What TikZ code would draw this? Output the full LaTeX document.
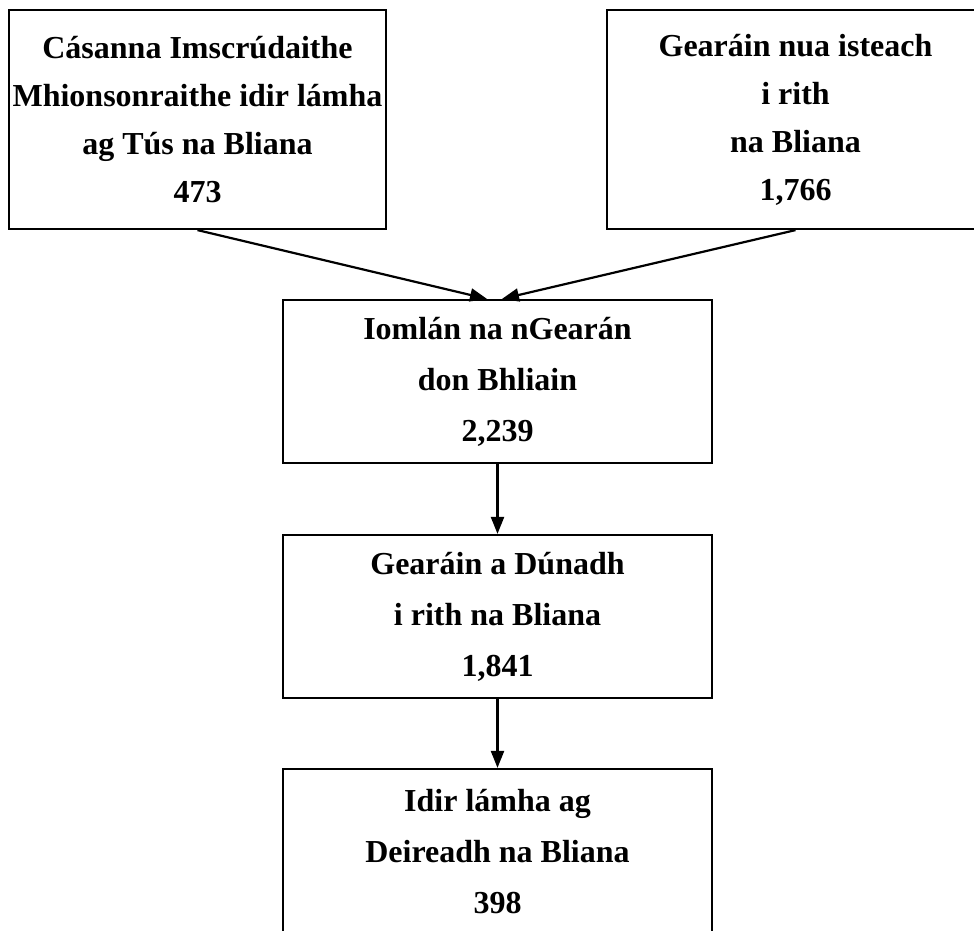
\documentclass[tikz,border=0pt]{standalone}
\usepackage{fontspec}
\setmainfont{Liberation Serif}
\usetikzlibrary{arrows.meta}
\begin{document}
\begin{tikzpicture}[x=1pt,y=-1pt,
  box/.style={draw=black, line width=2.2pt, rectangle, inner sep=0pt, align=center,
    font=\fontsize{32}{51}\selectfont\bfseries},
  topbox/.style={box, minimum width=377pt, minimum height=219pt,
    font=\fontsize{32}{48}\selectfont\bfseries},
  midbox/.style={box, minimum width=429pt, minimum height=163pt},
  arr/.style={line width=2.2pt, -{Triangle[length=17pt,width=13pt]}}]
\useasboundingbox (0,0) rectangle (974,931);
\clip (0,0) rectangle (974,931);
\node[topbox] (a) at (197.5,119.5) {Cásanna Imscrúdaithe\\Mhionsonraithe idir lámha\\ag Tús na Bliana\\473};
\node[topbox] (b) at (795.5,119.5) {Gearáin nua isteach\\i rith\\na Bliana\\1,766};
\node[midbox] (c) at (497.5,381.5) {Iomlán na nGearán\\don Bhliain\\2,239};
\node[midbox] (d) at (497.5,616.5) {Gearáin a Dúnadh\\i rith na Bliana\\1,841};
\node[box, minimum width=429pt, minimum height=165pt] (e) at (497.5,851.5) {Idir lámha ag\\Deireadh na Bliana\\398};
\draw[arr] (a.south) -- ([xshift=-10.5pt]c.north);
\draw[arr] (b.south) -- ([xshift=4.5pt]c.north);
\draw[arr] (c.south) -- (d.north);
\draw[arr] (d.south) -- (e.north);
\end{tikzpicture}
\end{document}
